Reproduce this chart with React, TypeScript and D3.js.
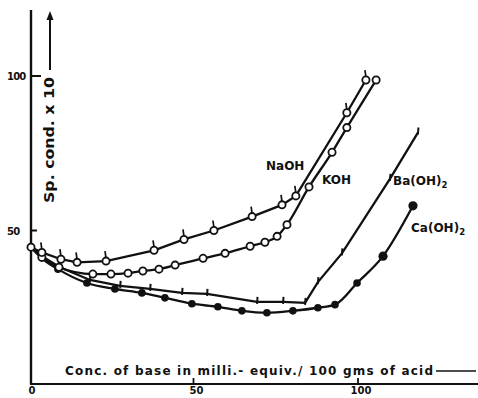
import React from 'react';
import * as d3 from 'd3';

// Data (x: milli-equiv./100 gms of acid, y: Sp. cond. x 10)
const naohX = [0, 3.3, 9.1, 14.0, 22.8, 37.4, 46.5, 55.6, 67.2, 76.3, 80.5, 96.0, 101.8];
const naohY = [44.6, 42.9, 40.7, 39.7, 40.1, 43.6, 47.1, 50.0, 54.5, 58.3, 61.2, 88.1, 98.7];

const kohX = [0, 3.3, 8.5, 18.8, 24.3, 29.5, 34.0, 38.9, 43.8, 52.3, 59.0, 66.6, 71.1, 74.8, 77.8, 84.5, 91.5, 96.0, 104.9];
const kohY = [44.6, 41.3, 38.1, 35.9, 35.9, 36.2, 36.9, 37.5, 38.8, 41.0, 42.6, 44.9, 46.2, 48.1, 51.9, 64.1, 75.3, 83.3, 98.7];

const baX = [0, 3.3, 8.8, 17.9, 27.1, 36.2, 45.9, 53.5, 68.7, 76.6, 83.3, 87.2, 94.5, 109.1, 117.6];
const baY = [44.6, 41.7, 38.1, 34.0, 32.1, 31.1, 29.8, 29.5, 26.9, 26.9, 26.6, 33.3, 42.6, 66.7, 81.7];

const caX = [0, 3.3, 8.2, 17.0, 25.5, 33.7, 40.7, 48.9, 56.8, 64.1, 71.7, 79.6, 87.2, 92.4, 99.1, 107.0, 116.1];
const caY = [44.6, 41.0, 37.5, 33.0, 31.1, 29.8, 28.2, 26.3, 25.3, 24.0, 23.4, 24.0, 25.0, 26.0, 33.0, 41.7, 58.0];

const xTicks = [0, 50, 100];
const yTicks = [50, 100];

const W = 478;
const H = 398;

const x = d3.scaleLinear().domain([0, 100]).range([31, 360]);
const y = d3.scaleLinear().domain([0, 100]).range([385, 76]);

const FONT = '"DejaVu Sans", "Liberation Sans", sans-serif';

function pts(xs: number[], ys: number[]) {
  return xs.map((v, i) => [v, ys[i]] as [number, number]);
}

export default function App() {
  const lineLin = d3.line<[number, number]>().x(d => x(d[0])).y(d => y(d[1]));
  const lineSmooth = d3
    .line<[number, number]>()
    .x(d => x(d[0]))
    .y(d => y(d[1]))
    .curve(d3.curveMonotoneX);

  const naoh = pts(naohX, naohY);
  const koh = pts(kohX, kohY);
  const ba = pts(baX, baY);
  const ca = pts(caX, caY);

  const stroke = '#111';
  const lw = 2.3;

  return (
    <svg
      width={W}
      height={H}
      style={{ position: 'absolute', left: 0, top: 0, background: '#fff' }}
      fontFamily={FONT}
    >
      <rect x={0} y={0} width={W} height={H} fill="#fff" />
      {/* axes */}
      <line x1={31} y1={10} x2={31} y2={384} stroke={stroke} strokeWidth={2.4} />
      <line x1={30} y1={384} x2={478} y2={384} stroke={stroke} strokeWidth={2.2} />
      {/* y ticks */}
      {yTicks.map(t => (
        <g key={'yt' + t}>
          <line x1={31} x2={t === 100 ? 41 : 37} y1={y(t)} y2={y(t)} stroke={stroke} strokeWidth={2} />
          <text x={7} y={y(t) + 4} fontSize={10} fontWeight="bold" fill={stroke} letterSpacing={-0.8}>
            {t}
          </text>
        </g>
      ))}
      {/* x ticks */}
      {xTicks.map(t => (
        <g key={'xt' + t}>
          {t > 0 && (
            <line x1={x(t) - 2} x2={x(t) - 2} y1={384} y2={378} stroke={stroke} strokeWidth={1.8} />
          )}
          <text x={x(t) + 1} y={394} fontSize={10} fontWeight="bold" textAnchor="middle" fill={stroke}>
            {t}
          </text>
        </g>
      ))}
      {/* x-axis title */}
      <text x={65} y={375} fontSize={12} fontWeight="bold" fill={stroke} textLength={368} lengthAdjust="spacing">
        Conc. of base in milli.- equiv./ 100 gms of acid
      </text>
      <line x1={436} x2={476} y1={371} y2={371} stroke={stroke} strokeWidth={1.6} />
      {/* y-axis title */}
      <text
        transform="translate(54,140) rotate(-90)"
        fontSize={13.5}
        fontWeight="bold"
        textAnchor="middle"
        fill={stroke}
        textLength={126}
        lengthAdjust="spacingAndGlyphs"
      >
        Sp. cond. x 10
      </text>
      <line x1={50} x2={50} y1={70} y2={16} stroke={stroke} strokeWidth={2} />
      <path d="M46.5,20 L50,11 L53.5,20 Z" fill={stroke} />

      {/* lines */}
      <path d={lineLin(naoh) || ''} fill="none" stroke={stroke} strokeWidth={lw} />
      <path d={lineSmooth(koh) || ''} fill="none" stroke={stroke} strokeWidth={lw} />
      <path d={lineLin(ba) || ''} fill="none" stroke={stroke} strokeWidth={lw} />
      <path d={lineSmooth(ca) || ''} fill="none" stroke={stroke} strokeWidth={lw} />

      {/* Ba(OH)2 tick markers */}
      {ba.slice(2).map((d, i) => (
        <line
          key={'ba' + i}
          x1={x(d[0])}
          x2={x(d[0]) + 0.5}
          y1={y(d[1]) + 2}
          y2={y(d[1]) - 5}
          stroke={stroke}
          strokeWidth={2}
        />
      ))}
      {/* Ca(OH)2 filled circles */}
      {ca.slice(2).map((d, i) => (
        <circle
          key={'ca' + i}
          cx={x(d[0])}
          cy={y(d[1])}
          r={i >= ca.length - 4 ? 4.6 : 3.8}
          fill={stroke}
        />
      ))}
      {/* KOH open circles */}
      {koh.slice(1).map((d, i) => (
        <circle key={'koh' + i} cx={x(d[0])} cy={y(d[1])} r={3.6} fill="#fff" stroke={stroke} strokeWidth={1.8} />
      ))}
      {/* NaOH open circles with flag */}
      {naoh.map((d, i) => (
        <g key={'na' + i}>
          {i > 0 && (
            <line
              x1={x(d[0])}
              x2={x(d[0]) - 1}
              y1={y(d[1]) - 3}
              y2={y(d[1]) - 10}
              stroke={stroke}
              strokeWidth={1.7}
            />
          )}
          <circle cx={x(d[0])} cy={y(d[1])} r={3.6} fill="#fff" stroke={stroke} strokeWidth={1.8} />
        </g>
      ))}

      {/* series labels */}
      <text x={266} y={170} fontSize={12} fontWeight="bold" fill={stroke}>NaOH</text>
      <text x={322} y={184} fontSize={12} fontWeight="bold" fill={stroke}>KOH</text>
      <text x={393} y={185} fontSize={12} fontWeight="bold" fill={stroke}>
        Ba(OH)<tspan fontSize={8.5} dy={3}>2</tspan>
      </text>
      <text x={411} y={232} fontSize={12} fontWeight="bold" fill={stroke}>
        Ca(OH)<tspan fontSize={8.5} dy={3}>2</tspan>
      </text>
    </svg>
  );
}
